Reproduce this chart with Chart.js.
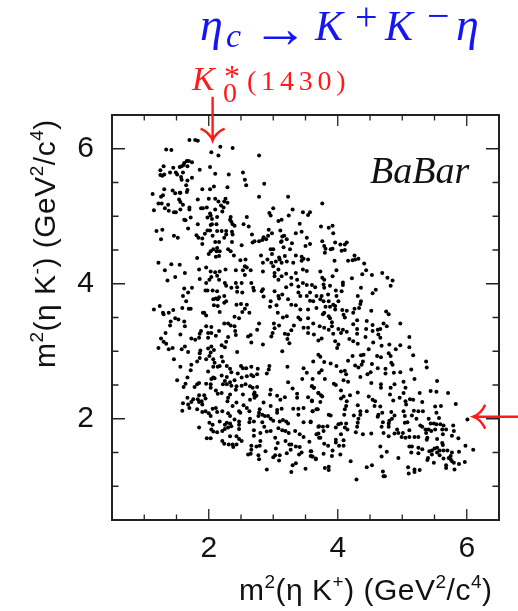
<!DOCTYPE html>
<html>
<head>
<meta charset="utf-8">
<script src="https://cdn.jsdelivr.net/npm/chart.js@4"></script>
<style>
html, body { margin: 0; padding: 0; background: #fff; }
#wrap { position: relative; width: 518px; height: 611px; }
</style>
</head>
<body>
<div id="wrap"><canvas id="dalitz" width="518" height="611"></canvas></div>
<script>
// events, one pair of lists per part of the plot
const upperX = [1.70,1.79,1.83,1.34,1.42,2.04,2.18,2.37,2.15,2.78,1.30,1.25,1.25,1.28,1.31,1.40,1.45,1.49,1.51,1.55,
    1.58,1.62,1.66,1.69,1.74,1.67,1.61,1.60,1.57,1.58,1.67,1.74,1.65,1.86,2.02,2.10,2.31,2.53,2.56,2.58,
    2.86,2.29,2.08,2.02,1.90,1.67,1.66,1.31,1.44,1.48,1.55,1.56,1.13,1.29,1.26,1.83,2.00,2.10,2.15,2.24,
    2.26,2.29,2.19,2.23,2.21,2.78,3.23,1.54,1.56,1.60,1.22,1.27,1.37,1.15,1.32,1.38,1.46,1.49,1.56,1.70,
    1.70,1.88,1.91,1.97,2.10,2.02,2.03,1.98,2.05,2.13,1.62,1.64,1.72,2.34,2.33,2.35,2.37,2.40,2.59,2.54,
    2.62,1.83,2.05,2.03,2.12,1.68,1.19,1.28,1.26,1.46,1.52,1.81,1.84,1.90,1.94,1.98,2.02,2.06,2.13,2.20,
    2.27,2.27,2.24,2.10,2.16,1.90,2.36,2.37,2.36,2.51,2.67,2.71,2.68,2.78,2.83,2.85,2.89,2.92,2.98,2.93,
    3.11,3.14,3.17,3.13,3.21,3.29,3.26,3.16,3.12,3.35,3.44,3.52,3.50,3.57,3.41,3.24,3.30,3.46,3.54,3.57,
    3.00,2.94,2.96,3.08,3.13,2.03,2.00,2.07,2.13,2.12,2.17,2.16,2.11,2.30,2.34,2.39,1.82,2.81,2.98,3.00,
    2.96,3.09,3.18,3.35,3.44];
const upperY = [6.13,6.13,6.12,5.99,5.98,5.95,6.03,6.01,5.90,5.90,5.74,5.68,5.61,5.60,5.62,5.65,5.72,5.65,5.62,5.73,
    5.74,5.79,5.82,5.82,5.80,5.74,5.76,5.65,5.58,5.54,5.53,5.57,5.46,5.69,5.73,5.63,5.62,5.65,5.54,5.46,
    5.48,5.43,5.44,5.40,5.40,5.39,5.36,5.40,5.38,5.34,5.35,5.35,5.33,5.31,5.29,5.25,5.26,5.26,5.22,5.22,
    5.26,5.20,5.16,5.13,5.07,5.29,5.29,5.25,5.21,5.17,5.19,5.19,5.17,5.09,5.12,5.08,5.06,5.06,5.10,5.13,
    5.10,5.12,5.12,5.13,5.10,5.04,5.01,4.98,4.96,4.99,4.95,4.94,4.98,4.99,4.95,4.92,4.88,4.86,4.99,4.88,
    4.85,4.88,4.88,4.87,4.88,4.82,4.78,4.80,4.66,4.71,4.68,4.72,4.68,4.67,4.74,4.79,4.79,4.71,4.78,4.78,
    4.78,4.73,4.68,4.62,4.62,4.59,4.77,4.73,4.62,4.57,4.73,4.63,4.61,4.63,4.65,4.69,4.66,4.71,4.75,4.80,
    4.79,4.70,4.71,4.63,4.66,4.60,4.51,4.54,4.62,4.75,4.77,4.68,4.56,4.59,4.89,5.01,5.10,5.06,5.02,5.06,
    5.12,5.05,5.01,4.93,4.95,4.48,4.44,4.51,4.53,4.48,4.48,4.41,4.40,4.51,4.48,4.42,4.38,4.42,4.44,4.51,
    4.51,4.39,4.41,4.42,4.40];

const rightX = [3.76,3.74,3.86,3.92,3.93,3.76,3.79,3.80,3.81,3.96,3.89,3.92,4.04,4.11,4.14,4.06,4.11,4.16,3.95,4.23,
    4.26,4.27,4.32,4.41,4.44,4.38,4.53,4.69,4.77,4.85,4.82,3.98,3.92,3.73,3.76,3.79,3.78,3.79,3.88,4.08,
    4.08,4.22,4.36,4.59,4.54,4.31,4.36,4.35,4.33,4.26,4.24,4.14,4.07,4.09,4.11,4.52,4.75,4.79,4.97,3.97,
    4.06,3.98,3.85,4.01,3.96,3.93,3.86,3.96,3.88,3.81,3.79,3.77,3.86,3.88,3.67,3.54,3.78,3.75,3.73,3.67,
    3.62,3.57,3.52,3.57,3.65,3.60,3.52,3.46,3.42,3.46,3.52,3.54,3.44,3.47,3.42,3.54,3.42,3.91,4.30,4.45,
    4.54,4.66,4.71,4.76,4.24,4.30,4.44,4.54,4.62,4.63,4.66,4.43,4.30,4.18,4.24,4.31,4.55,4.68,4.80,4.90,
    4.97,5.11,5.11,5.17,4.48,4.36,4.40,4.23,4.61,4.67,4.79,4.82,3.70,3.73,3.54,3.62,3.72,3.79,3.86,3.91,
    4.01,4.08,4.05,4.14,3.93,3.96,4.01,3.99,3.54,3.63,3.70,3.75,3.47];
const rightY = [5.19,4.85,4.83,4.86,4.75,4.63,4.56,4.46,4.52,4.61,4.51,4.52,4.58,4.58,4.61,4.49,4.50,4.34,4.34,4.35,
    4.42,4.36,4.37,4.30,4.20,4.14,4.13,4.16,4.09,4.05,3.97,4.20,4.11,4.18,4.09,4.06,3.99,3.94,3.97,4.02,
    3.98,4.08,3.94,3.91,3.86,3.82,3.74,3.70,3.64,3.63,3.57,3.60,3.61,3.54,3.50,3.60,3.59,3.55,3.41,3.90,
    3.89,3.82,3.84,3.74,3.67,3.69,3.74,3.62,3.66,3.66,3.57,3.55,3.52,3.49,3.64,3.62,3.74,3.82,3.77,3.82,
    3.74,3.75,3.82,3.87,3.95,3.98,3.98,4.01,3.82,4.21,4.19,4.36,4.34,4.37,3.62,3.49,3.47,3.43,3.46,3.45,
    3.39,3.33,3.41,3.37,3.40,3.33,3.33,3.30,3.32,3.25,3.20,3.21,3.26,3.18,3.15,3.11,3.13,3.08,3.10,3.03,
    3.09,3.06,3.21,2.94,3.03,2.94,2.95,2.93,2.93,2.91,2.97,2.93,2.95,2.92,3.35,3.41,3.37,3.35,3.32,3.37,
    3.33,3.32,3.27,3.29,3.26,3.15,3.10,3.05,3.27,3.25,3.16,3.19,3.35];

const leftX = [1.22,1.32,1.42,1.55,1.48,1.36,1.63,1.85,1.96,2.03,2.10,2.17,2.26,2.42,2.49,2.57,2.56,2.53,2.59,2.65,
    2.56,2.84,2.84,2.91,2.97,3.00,3.04,3.10,3.13,3.21,3.31,3.08,3.02,3.02,3.20,3.13,3.08,3.28,3.37,3.35,
    1.86,2.01,2.04,2.13,2.16,1.96,2.25,2.27,2.35,2.42,2.44,2.51,2.66,2.69,2.70,2.44,2.52,2.84,2.82,3.02,
    3.28,3.20,3.39,3.14,3.08,3.09,2.85,2.96,3.23,3.28,3.35,3.39,2.95,3.05,3.07,3.39,3.21,3.15,1.62,1.74,
    1.68,1.60,1.65,1.95,1.98,2.06,2.13,2.24,2.16,2.11,2.07,2.14,2.27,2.24,2.08,2.14,2.17,1.59,1.69,1.72,
    1.24,1.15,1.29,1.30,1.38,1.45,1.91,1.96,1.93,2.43,2.50,2.59,2.56,2.52,2.63,2.40,2.47,1.48,1.53,1.41,
    1.40,1.62,1.63,2.24,2.30,2.34,2.40,2.41,2.42,2.78,2.75,3.01,3.09,3.02,2.99,2.97,1.96,2.04,1.33,1.56,
    1.88,1.86,1.85,1.73,1.79,1.99,2.04,2.16,2.11,1.99,2.30,2.27,1.26,1.30,1.34,1.22,1.38,1.44,1.58,1.63,
    1.68,2.20,2.25,2.61,2.65,2.66,2.84,3.18,3.23,3.28,3.32,3.22,3.25,3.14,2.44,1.87,1.86,1.99,2.04,2.08,
    2.03,2.01,1.46,1.86,1.82,1.96,2.07,2.09,2.20,2.22,2.17,1.56,1.73,1.72,1.99,2.07,2.14,2.28,2.33,2.35,
    2.50,2.53,2.58,2.66,2.76,2.94,2.93,3.22,2.90,2.75,2.66,2.59,2.45,2.20,2.28,2.07,1.67,2.51,2.69];
const leftY = [4.31,4.20,4.29,4.28,4.10,4.05,4.16,4.21,4.24,4.18,4.17,4.18,4.21,4.20,4.35,4.36,4.26,4.20,4.24,4.20,
    4.13,4.18,4.31,4.36,4.31,4.26,4.33,4.36,4.31,4.33,4.31,4.21,4.16,4.11,4.15,4.11,4.06,4.09,4.06,4.16,
    4.07,4.06,4.10,4.12,4.06,4.01,4.01,3.97,3.94,4.01,3.95,4.01,4.01,3.94,3.90,3.88,3.87,3.92,3.89,3.89,
    3.99,3.95,3.96,3.84,3.82,3.78,3.81,3.74,3.77,3.69,3.68,3.87,3.66,3.68,3.57,3.50,3.52,3.50,3.93,3.94,
    3.87,3.82,3.74,3.90,3.90,3.90,3.89,3.82,3.80,3.78,3.77,3.77,3.74,3.72,3.68,3.67,3.58,3.64,3.63,3.63,
    3.67,3.62,3.57,3.55,3.57,3.61,3.57,3.53,3.57,3.69,3.70,3.69,3.63,3.58,3.57,3.51,3.49,3.49,3.47,3.44,
    3.38,3.44,3.37,3.41,3.41,3.38,3.37,3.30,3.24,3.41,3.32,3.41,3.38,3.34,3.27,3.22,3.37,3.36,3.27,3.25,
    3.30,3.26,3.20,3.19,3.17,3.27,3.27,3.30,3.23,3.20,3.21,3.14,3.19,3.14,3.11,3.05,3.03,3.05,3.03,3.07,
    2.99,3.09,3.06,3.22,3.24,3.13,3.10,3.26,3.25,3.31,3.38,3.18,3.12,3.00,2.99,3.01,2.97,3.04,3.07,3.02,
    2.98,2.93,2.88,2.90,2.85,2.88,2.88,2.83,2.92,2.85,2.78,2.77,2.80,2.72,2.70,2.77,2.77,2.78,2.74,2.69,
    2.78,2.75,2.75,2.77,2.74,2.78,2.73,2.77,2.67,2.66,2.65,2.63,2.67,2.64,2.62,2.61,2.61,2.61,2.63];

const lowerX = [1.51,1.64,1.61,1.78,1.82,1.85,1.96,2.03,2.03,2.04,2.09,2.22,2.25,2.28,2.33,2.35,2.40,2.43,2.42,2.51,
    2.57,2.64,2.68,2.75,2.71,2.70,2.74,2.71,2.96,2.95,3.06,3.18,3.11,3.23,3.30,3.37,3.37,3.54,3.60,3.45,
    3.60,3.63,3.70,2.11,2.14,2.20,2.33,2.30,2.29,2.53,2.64,1.67,1.85,1.93,1.95,1.76,1.73,1.60,1.68,1.70,
    1.59,1.83,1.85,1.89,1.90,1.82,1.90,1.95,2.00,2.03,2.06,2.11,2.13,2.21,2.37,2.43,2.54,2.59,2.63,2.47,
    2.49,2.85,2.96,3.13,3.06,3.06,3.31,3.39,3.47,3.39,3.61,3.67,2.79,2.78,2.77,2.83,2.87,2.92,2.96,3.00,
    2.30,2.33,2.40,2.17,2.01,2.06,1.85,2.04,2.07,2.13,2.21,2.25,2.28,2.33,2.25,2.30,2.35,2.47,2.47,2.47,
    2.64,2.63,2.70,2.83,2.86,2.90,2.96,2.80,2.70,2.70,3.10,3.15,3.20,3.23,3.08,3.14,3.19,3.24,3.34,3.41,
    3.47,3.47,3.58,3.03,3.07,3.04,3.19,3.25,3.28,3.35,3.41,3.27,3.21,3.44,3.40,3.56,3.67,3.71,3.70,3.59,
    3.60,3.66,1.97,2.03,2.33,2.43,2.47,2.51,2.21,2.24,2.31,2.37,2.38,2.43,2.66,2.66,2.74,2.80,2.79,2.88,
    2.61,2.65,2.77,2.78,3.00,3.03,3.10,3.09,2.90,3.30,3.35,3.28,3.50,3.47,3.52];
const lowerY = [2.57,2.52,2.47,2.47,2.51,2.53,2.52,2.51,2.46,2.59,2.60,2.51,2.56,2.51,2.54,2.49,2.57,2.48,2.43,2.49,
    2.51,2.48,2.46,2.47,2.39,2.36,2.34,2.31,2.43,2.36,2.34,2.32,2.28,2.54,2.45,2.37,2.31,2.32,2.27,2.59,
    2.48,2.46,2.38,2.42,2.37,2.38,2.36,2.31,2.26,2.36,2.28,2.31,2.35,2.35,2.30,2.29,2.25,2.23,2.21,2.16,
    2.12,2.29,2.25,2.26,2.21,2.14,2.10,2.11,2.08,2.04,2.15,2.16,2.10,2.11,2.19,2.24,2.20,2.16,2.11,2.11,
    2.09,2.24,2.19,2.15,2.13,2.09,2.15,2.15,2.16,2.06,2.11,2.14,2.14,2.09,2.04,2.06,2.04,2.04,2.00,1.97,
    2.08,2.04,1.99,1.96,1.94,1.91,1.87,1.84,1.81,1.80,1.82,1.91,1.94,1.93,1.85,1.87,1.89,1.96,1.91,1.85,
    2.00,1.95,1.96,1.95,1.88,1.81,1.82,1.79,1.83,1.75,1.96,1.98,1.96,1.93,1.86,1.83,1.82,1.79,1.82,1.77,
    1.73,1.95,1.95,1.72,1.64,1.56,1.67,1.62,1.62,1.59,1.58,1.54,1.49,1.50,1.47,1.66,1.77,1.72,1.88,1.52,
    1.44,1.41,1.71,1.71,1.74,1.74,1.70,1.67,1.67,1.63,1.62,1.62,1.58,1.62,1.60,1.54,1.59,1.67,1.60,1.52,
    1.47,1.48,1.46,1.40,1.43,1.46,1.46,1.38,1.25,1.31,1.34,1.21,1.26,2.75,2.68];

const tailX = [3.62,3.79,3.89,3.98,4.16,4.27,4.32,4.37,4.39,4.53,4.62,4.74,4.83,4.85,4.74,4.87,4.97,5.14,5.37,5.38,
    3.75,3.71,4.05,4.11,4.13,4.35,4.46,4.51,4.16,4.09,3.80,3.61,3.94,3.97,4.52,4.67,4.67,4.82,4.88,5.02,
    5.05,5.19,5.54,3.60,3.63,4.05,4.31,3.70,3.74,3.76,4.19,4.09,4.05,4.81,5.02,4.96,4.86,4.48,4.54,4.58,
    5.27,5.44,5.53,5.71,5.05,5.06,5.12,5.17,5.31,5.83,3.60,3.73,4.14,4.13,4.31,4.35,4.45,4.57,4.66,4.69,
    4.63,4.62,4.83,5.02,5.04,5.18,5.25,5.32,5.15,5.22,5.51,5.60,5.53,3.69,3.61,3.86,3.89,4.11,4.10,4.25,
    4.35,4.32,4.31,4.30,4.88,4.84,4.80,4.70,4.68,4.79,4.79,4.05,4.01,4.13,4.11,4.15,3.97,3.84,3.77,3.71,
    3.78,3.58,4.28,4.39,4.52,4.71,4.79,5.04,5.08,5.11,4.92,4.88,4.94,5.01,4.99,5.05,5.11,5.19,5.25,5.28,
    5.31,5.41,5.44,5.36,5.37,5.41,5.45,5.49,5.53,5.57,5.59,5.51,5.62,5.68,5.64,5.79,5.80,5.77,5.87,5.54,
    5.63,5.39,5.38,6.01,5.62,5.63,5.98,6.10,5.88,5.77,5.70,5.64,5.58,5.54,5.50,5.46,5.42,5.54,5.46,5.58,
    5.40,5.39,5.75,5.72,5.64,5.75,5.77,5.49,5.68,5.68,5.80,5.88,5.97,5.81,5.11,5.15,5.25,5.31,5.14,5.25,
    4.94,4.76,4.68,4.66,5.09,5.10,5.19,5.19,5.27,4.70,4.71,4.73,4.53,4.45,4.20,4.29,3.80,3.86,3.86,4.04,
    3.91,3.92,3.78,3.66,3.61,3.58,3.58,3.79,3.85,4.02,4.09,3.97,3.97,4.05,4.09,3.73,3.70];
const tailY = [2.85,2.84,2.82,2.78,2.86,2.79,2.76,2.80,2.85,2.81,2.75,2.74,2.83,2.80,2.67,2.68,2.69,2.73,2.85,2.76,
    2.72,2.68,2.70,2.71,2.66,2.62,2.66,2.69,2.55,2.57,2.59,2.59,2.52,2.50,2.53,2.51,2.46,2.46,2.51,2.55,
    2.46,2.59,2.56,2.48,2.46,2.42,2.39,2.38,2.35,2.33,2.35,2.33,2.30,2.36,2.38,2.31,2.27,2.33,2.28,2.26,
    2.38,2.41,2.40,2.38,2.26,2.21,2.29,2.28,2.25,2.22,2.26,2.25,2.26,2.19,2.20,2.11,2.11,2.19,2.18,2.09,
    2.06,2.03,2.10,2.11,2.04,2.12,2.11,2.11,2.05,2.00,2.18,2.19,2.09,2.14,2.11,2.06,2.05,2.14,2.06,2.05,
    2.06,2.00,1.94,1.88,2.05,2.00,1.97,1.95,1.88,1.93,1.88,1.93,1.92,1.93,1.87,1.84,1.87,1.89,1.88,1.89,
    1.82,1.96,1.80,1.77,1.78,1.79,1.74,1.94,1.95,1.83,1.84,1.78,1.79,1.79,1.73,1.72,1.73,1.73,1.73,1.90,
    1.88,2.00,1.93,1.84,1.79,1.84,1.82,1.93,1.92,2.01,1.92,1.84,1.84,1.84,1.90,1.90,1.82,1.75,1.71,1.70,
    1.77,1.72,1.69,1.99,1.64,1.61,1.60,1.54,1.51,1.50,1.53,1.53,1.53,1.57,1.56,1.53,1.52,1.50,1.47,1.46,
    1.42,1.39,1.45,1.42,1.41,1.40,1.37,1.35,1.31,1.27,1.35,1.33,1.36,1.25,1.59,1.59,1.57,1.55,1.50,1.49,
    1.42,1.51,1.44,1.59,1.28,1.19,1.25,1.21,1.24,1.22,1.15,1.15,1.31,1.28,1.37,1.10,1.27,1.29,1.24,1.47,
    1.45,1.53,1.48,1.40,1.44,1.52,1.45,1.63,1.60,1.60,1.60,1.69,1.65,1.77,1.68,1.72,1.78];

const axisMin = 0.5;
const axisMax = 6.5;
const tickStep = 0.5;
const majorTicks = [2, 4, 6];

// arrows: tip and tail in data units
const resonanceX = 2.06;
const resonanceTipY = 6.12;
const resonanceTailY = 6.77;
const sideY = 2.03;
const sideTipX = 6.10;
const sideTailX = 6.80;

// axis titles, second item marks a superscript
const xTitleParts = [['m', 0], ['2', 1], ['(η K', 0], ['+', 1], [') (GeV', 0], ['2', 1], ['/c', 0], ['4', 1], [')', 0]];
const yTitleParts = [['m', 0], ['2', 1], ['(η K', 0], ['-', 1], [') (GeV', 0], ['2', 1], ['/c', 0], ['4', 1], [')', 0]];

function pairUp(xs, ys) {
    return xs.map((x, i) => ({ x: x, y: ys[i] }));
}

const events = [].concat(
    pairUp(upperX, upperY),
    pairUp(rightX, rightY),
    pairUp(leftX, leftY),
    pairUp(lowerX, lowerY),
    pairUp(tailX, tailY)
);

function tickLabel(value) {
    return majorTicks.includes(value) ? String(value) : '';
}

function putText(ctx, text, x, y, font, color, spacing) {
    ctx.font = font;
    ctx.fillStyle = color;
    ctx.letterSpacing = spacing || '0px';
    ctx.fillText(text, x, y);
    ctx.letterSpacing = '0px';
}

function axisTitle(ctx, parts, x, y) {
    let cursor = x;
    parts.forEach(([text, isSup]) => {
        ctx.font = (isSup ? '19px' : '30px') + ' "Liberation Sans"';
        ctx.letterSpacing = '0.5px';
        ctx.fillStyle = '#111';
        ctx.fillText(text, cursor, isSup ? y - 12 : y);
        cursor += ctx.measureText(text).width;
    });
    ctx.letterSpacing = '0px';
}

const decorations = {
    id: 'decorations',
    afterDraw(chart) {
        const ctx = chart.ctx;
        const xs = chart.scales.x;
        const ys = chart.scales.y;
        const area = chart.chartArea;
        ctx.save();

        // frame and inward ticks on all four sides
        ctx.strokeStyle = '#222';
        ctx.lineWidth = 2;
        ctx.strokeRect(area.left, area.top, area.right - area.left, area.bottom - area.top);
        ctx.lineWidth = 1.3;
        ctx.beginPath();
        for (let v = axisMin + tickStep; v < axisMax; v += tickStep) {
            const xLen = majorTicks.includes(v) ? 11 : 5.5;
            const yLen = majorTicks.includes(v) ? 13 : 6.5;
            const px = xs.getPixelForValue(v);
            const py = ys.getPixelForValue(v);
            ctx.moveTo(px, area.bottom); ctx.lineTo(px, area.bottom - xLen);
            ctx.moveTo(px, area.top); ctx.lineTo(px, area.top + xLen);
            ctx.moveTo(area.left, py); ctx.lineTo(area.left + yLen, py);
            ctx.moveTo(area.right, py); ctx.lineTo(area.right - yLen, py);
        }
        ctx.stroke();

        // red arrows
        ctx.strokeStyle = '#ff1a1a';
        ctx.lineWidth = 2.4;
        const ax = xs.getPixelForValue(resonanceX);
        const aTip = ys.getPixelForValue(resonanceTipY);
        const aTail = ys.getPixelForValue(resonanceTailY);
        ctx.beginPath();
        ctx.moveTo(ax, aTail); ctx.lineTo(ax, aTip);
        ctx.moveTo(ax - 12, aTip - 12); ctx.quadraticCurveTo(ax - 3, aTip - 8, ax, aTip);
        ctx.quadraticCurveTo(ax + 3, aTip - 8, ax + 12, aTip - 12);
        ctx.stroke();

        const by = ys.getPixelForValue(sideY);
        const bTip = xs.getPixelForValue(sideTipX);
        const bTail = xs.getPixelForValue(sideTailX);
        ctx.beginPath();
        ctx.moveTo(bTail, by); ctx.lineTo(bTip, by);
        ctx.moveTo(bTip + 12, by - 12); ctx.quadraticCurveTo(bTip + 8, by - 3, bTip, by);
        ctx.quadraticCurveTo(bTip + 8, by + 3, bTip + 12, by + 12);
        ctx.stroke();

        // titles and labels
        ctx.textBaseline = 'alphabetic';
        ctx.textAlign = 'left';
        const blue = '#1414f5';
        const blueFont = 'italic 42px "Liberation Serif"';
        putText(ctx, 'η', 200, 40, 'italic 46px "Liberation Serif"', blue);
        putText(ctx, 'c', 226, 47, 'italic 34px "Liberation Serif"', blue);
        putText(ctx, '→', 252, 47, '56px "Liberation Serif"', blue);
        putText(ctx, 'K', 315, 40, blueFont, blue);
        putText(ctx, '+', 355, 30, '40px "Liberation Serif"', blue);
        putText(ctx, 'K', 385, 40, blueFont, blue);
        putText(ctx, '−', 427, 29, '40px "Liberation Serif"', blue);
        putText(ctx, 'η', 456, 40, 'italic 46px "Liberation Serif"', blue);

        const red = '#ff1a1a';
        putText(ctx, 'K', 192, 90, 'italic 34px "Liberation Serif"', red);
        putText(ctx, '*', 224, 87, '32px "Liberation Serif"', red);
        putText(ctx, '0', 223, 102, '28px "Liberation Serif"', red);
        putText(ctx, '(1430)', 247, 90, '28px "Liberation Serif"', red, '4.8px');

        putText(ctx, 'BaBar', 370, 183, 'italic 38px "Liberation Serif"', '#111');

        axisTitle(ctx, xTitleParts, 239, 600);
        ctx.translate(55, 368);
        ctx.rotate(-Math.PI / 2);
        axisTitle(ctx, yTitleParts, 0, 0);
        ctx.restore();
    }
};

new Chart(document.getElementById('dalitz').getContext('2d'), {
    type: 'scatter',
    data: {
        datasets: [{
            data: events,
            backgroundColor: '#000',
            borderWidth: 0,
            pointRadius: 2
        }]
    },
    options: {
        responsive: false,
        animation: false,
        layout: { padding: { top: 115, right: 19, left: 0, bottom: 0 } },
        plugins: { legend: { display: false }, tooltip: { enabled: false } },
        scales: {
            x: {
                type: 'linear',
                min: axisMin,
                max: axisMax,
                afterFit(scale) { scale.height = 91; },
                grid: { display: false },
                border: { display: false },
                ticks: {
                    stepSize: tickStep,
                    autoSkip: false,
                    maxRotation: 0,
                    padding: 3,
                    color: '#111',
                    font: { family: 'Liberation Sans', size: 30 },
                    callback: tickLabel
                },
                title: { display: false }
            },
            y: {
                type: 'linear',
                min: axisMin,
                max: axisMax,
                afterFit(scale) { scale.width = 112; },
                grid: { display: false },
                border: { display: false },
                ticks: {
                    stepSize: tickStep,
                    autoSkip: false,
                    padding: 10,
                    color: '#111',
                    font: { family: 'Liberation Sans', size: 30 },
                    callback: tickLabel
                },
                title: { display: false }
            }
        }
    },
    plugins: [decorations]
});

console.log('events:', events.length);
</script>
</body>
</html>
